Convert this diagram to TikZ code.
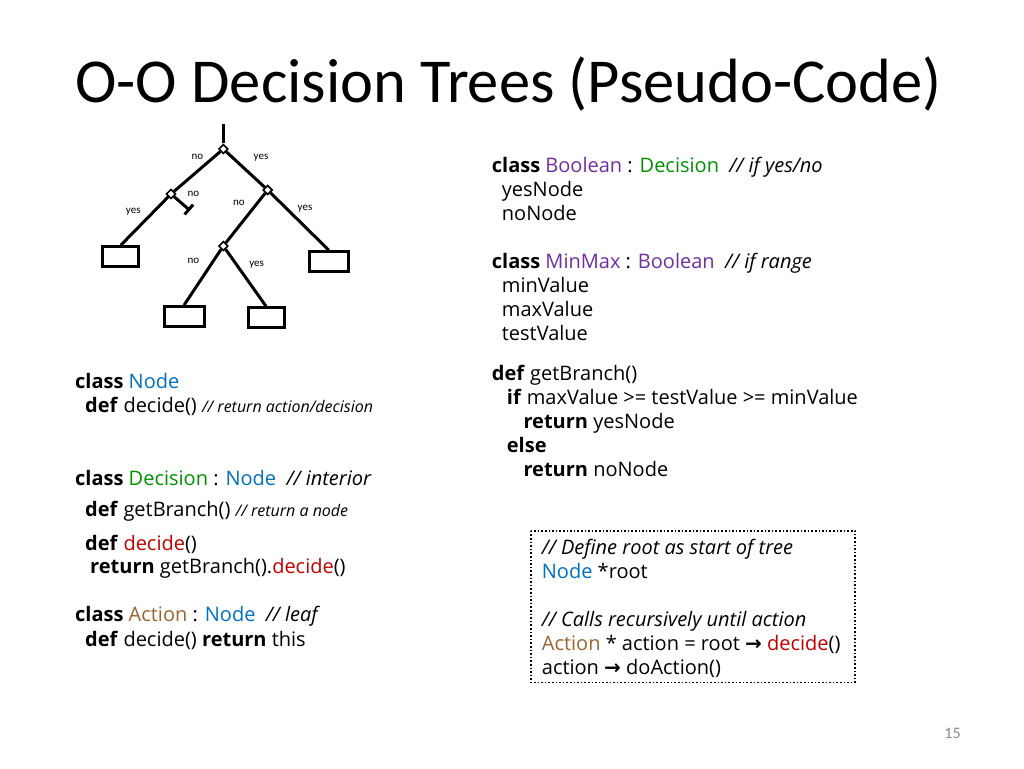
\documentclass[tikz,border=0pt]{standalone}
\usepackage{fontspec}
\setmainfont{Open Sans}
\newfontfamily\titlefont{Carlito}
\newfontfamily\arrowfont{DejaVu Sans}
\usetikzlibrary{shapes.geometric,arrows.meta}
\definecolor{nodeblue}{RGB}{0,112,192}
\definecolor{decgreen}{RGB}{0,145,0}
\definecolor{boolpurple}{RGB}{112,48,160}
\definecolor{actbrown}{RGB}{153,102,51}
\definecolor{decred}{RGB}{192,0,0}
\definecolor{pagegray}{RGB}{137,137,137}
\newcommand{\cmt}[1]{{\fontsize{16}{24}\selectfont\itshape #1}}
\newcommand{\arr}{{\arrowfont\bfseries →}}
\begin{document}
\begin{tikzpicture}[x=1pt,y=-1pt,
  code/.style={anchor=base west,inner sep=0pt,font=\fontsize{20}{24}\selectfont},
  branch/.style={line width=3pt},
  junction/.style={diamond,draw,fill=white,line width=1.6pt,inner sep=0pt,minimum size=9.5pt},
  leaf/.style={draw,line width=3pt,minimum height=20pt,inner sep=0pt},
  lbl/.style={font=\titlefont\fontsize{11}{12}\selectfont,inner sep=0pt}]
\useasboundingbox[fill=white] (0,0) rectangle (1024,768);
% title
\node[anchor=base,inner sep=0pt,font=\titlefont\fontsize{62.5}{70}\selectfont] (title) at (508.5,102.5) {O-O Decision Trees (Pseudo-Code)};
% tree
\coordinate (top) at (223.3,124);
\coordinate (stub) at (190,210.5);
\node[leaf,minimum width=36pt] (L1) at (120.8,256.7) {};
\node[leaf,minimum width=39pt] (R1) at (328.8,261.7) {};
\node[leaf,minimum width=40pt] (B1) at (184,316.7) {};
\node[leaf,minimum width=36pt] (B2) at (266,317.7) {};
\node[junction] (d0) at (223.3,149) {};
\node[junction] (d1) at (171,194) {};
\node[junction] (d2) at (267.7,190) {};
\node[junction] (d3) at (223.3,246) {};
\draw[branch] (top) -- (d0);
\draw[branch] (d0) -- (d1);
\draw[branch] (d0) -- (d2);
\draw[branch] (d1) -- (L1.north);
\draw[branch,-{Bar[width=13pt,line width=3pt]}] (d1) -- (stub);
\draw[branch] (d2) -- (R1.north);
\draw[branch] (d2) -- (d3);
\draw[branch] (d3) -- (B1.north);
\draw[branch] (d3) -- (B2.north);
\node[lbl] (l0) at (197.3,156.7) {no};
\node[lbl] (l1) at (261,157.3) {yes};
\node[lbl] (l2) at (193.3,194) {no};
\node[lbl] (l3) at (133.3,211.7) {yes};
\node[lbl] (l4) at (239,203.3) {no};
\node[lbl] (l5) at (305,209) {yes};
\node[lbl] (l6) at (193.3,260.7) {no};
\node[lbl] (l7) at (256.7,264.7) {yes};
% left column
\node[code] (n1) at (75,388.3) {\textbf{class} \textcolor{nodeblue}{Node}};
\node[code] (n2) at (85,412.7) {\textbf{def} decide() \cmt{// return action/decision}};
\node[code] (n3) at (75,485) {\textbf{class} \textcolor{decgreen}{Decision} : \textcolor{nodeblue}{Node}\ \ \textit{// interior}};
\node[code] (n4) at (85,516.7) {\textbf{def} getBranch() \cmt{// return a node}};
\node[code] (n5) at (85,550) {\textbf{def} \textcolor{decred}{decide}()};
\node[code] (n6) at (90,573.3) {\textbf{return} getBranch().\textcolor{decred}{decide}()};
\node[code] (n7) at (75,621.7) {\textbf{class} \textcolor{actbrown}{Action} : \textcolor{nodeblue}{Node}\ \ \textit{// leaf}};
\node[code] (n8) at (85,646) {\textbf{def} decide() \textbf{return} this};
% right column
\node[code] (r1) at (491.7,172.7) {\textbf{class} \textcolor{boolpurple}{Boolean} : \textcolor{decgreen}{Decision}\ \ \textit{// if yes/no}};
\node[code] (r2) at (501.7,196.7) {yesNode};
\node[code] (r3) at (501.7,220.7) {noNode};
\node[code] (r4) at (491.7,268.7) {\textbf{class} \textcolor{boolpurple}{MinMax} : \textcolor{boolpurple}{Boolean}\ \ \textit{// if range}};
\node[code] (r5) at (501.7,292.7) {minValue};
\node[code] (r6) at (501.7,316.7) {maxValue};
\node[code] (r7) at (501.7,340.7) {testValue};
\node[code] (r8) at (491.7,380) {\textbf{def} getBranch()};
\node[code] (r9) at (506.7,404) {\textbf{if} maxValue >= testValue >= minValue};
\node[code] (r10) at (523.3,428) {\textbf{return} yesNode};
\node[code] (r11) at (506.7,452) {\textbf{else}};
\node[code] (r12) at (523.3,476) {\textbf{return} noNode};
% dotted box
\draw[dotted,line width=1.6pt] (530.7,530.7) rectangle (855,682.3);
\node[code] (b1) at (541.7,554.3) {\textit{// Define root as start of tree}};
\node[code] (b2) at (541.7,578.3) {\textcolor{nodeblue}{Node} *root};
\node[code] (b3) at (541.7,626) {\textit{// Calls recursively until action}};
\node[code] (b4) at (541.7,650) {\textcolor{actbrown}{Action} * action = root \arr{} \textcolor{decred}{decide}()};
\node[code] (b5) at (541.7,674) {action \arr{} doAction()};
% page number
\node[anchor=base,inner sep=0pt,text=pagegray,font=\titlefont\fontsize{16}{18}\selectfont] (pg) at (952.5,738.3) {15};
\end{tikzpicture}
\end{document}
